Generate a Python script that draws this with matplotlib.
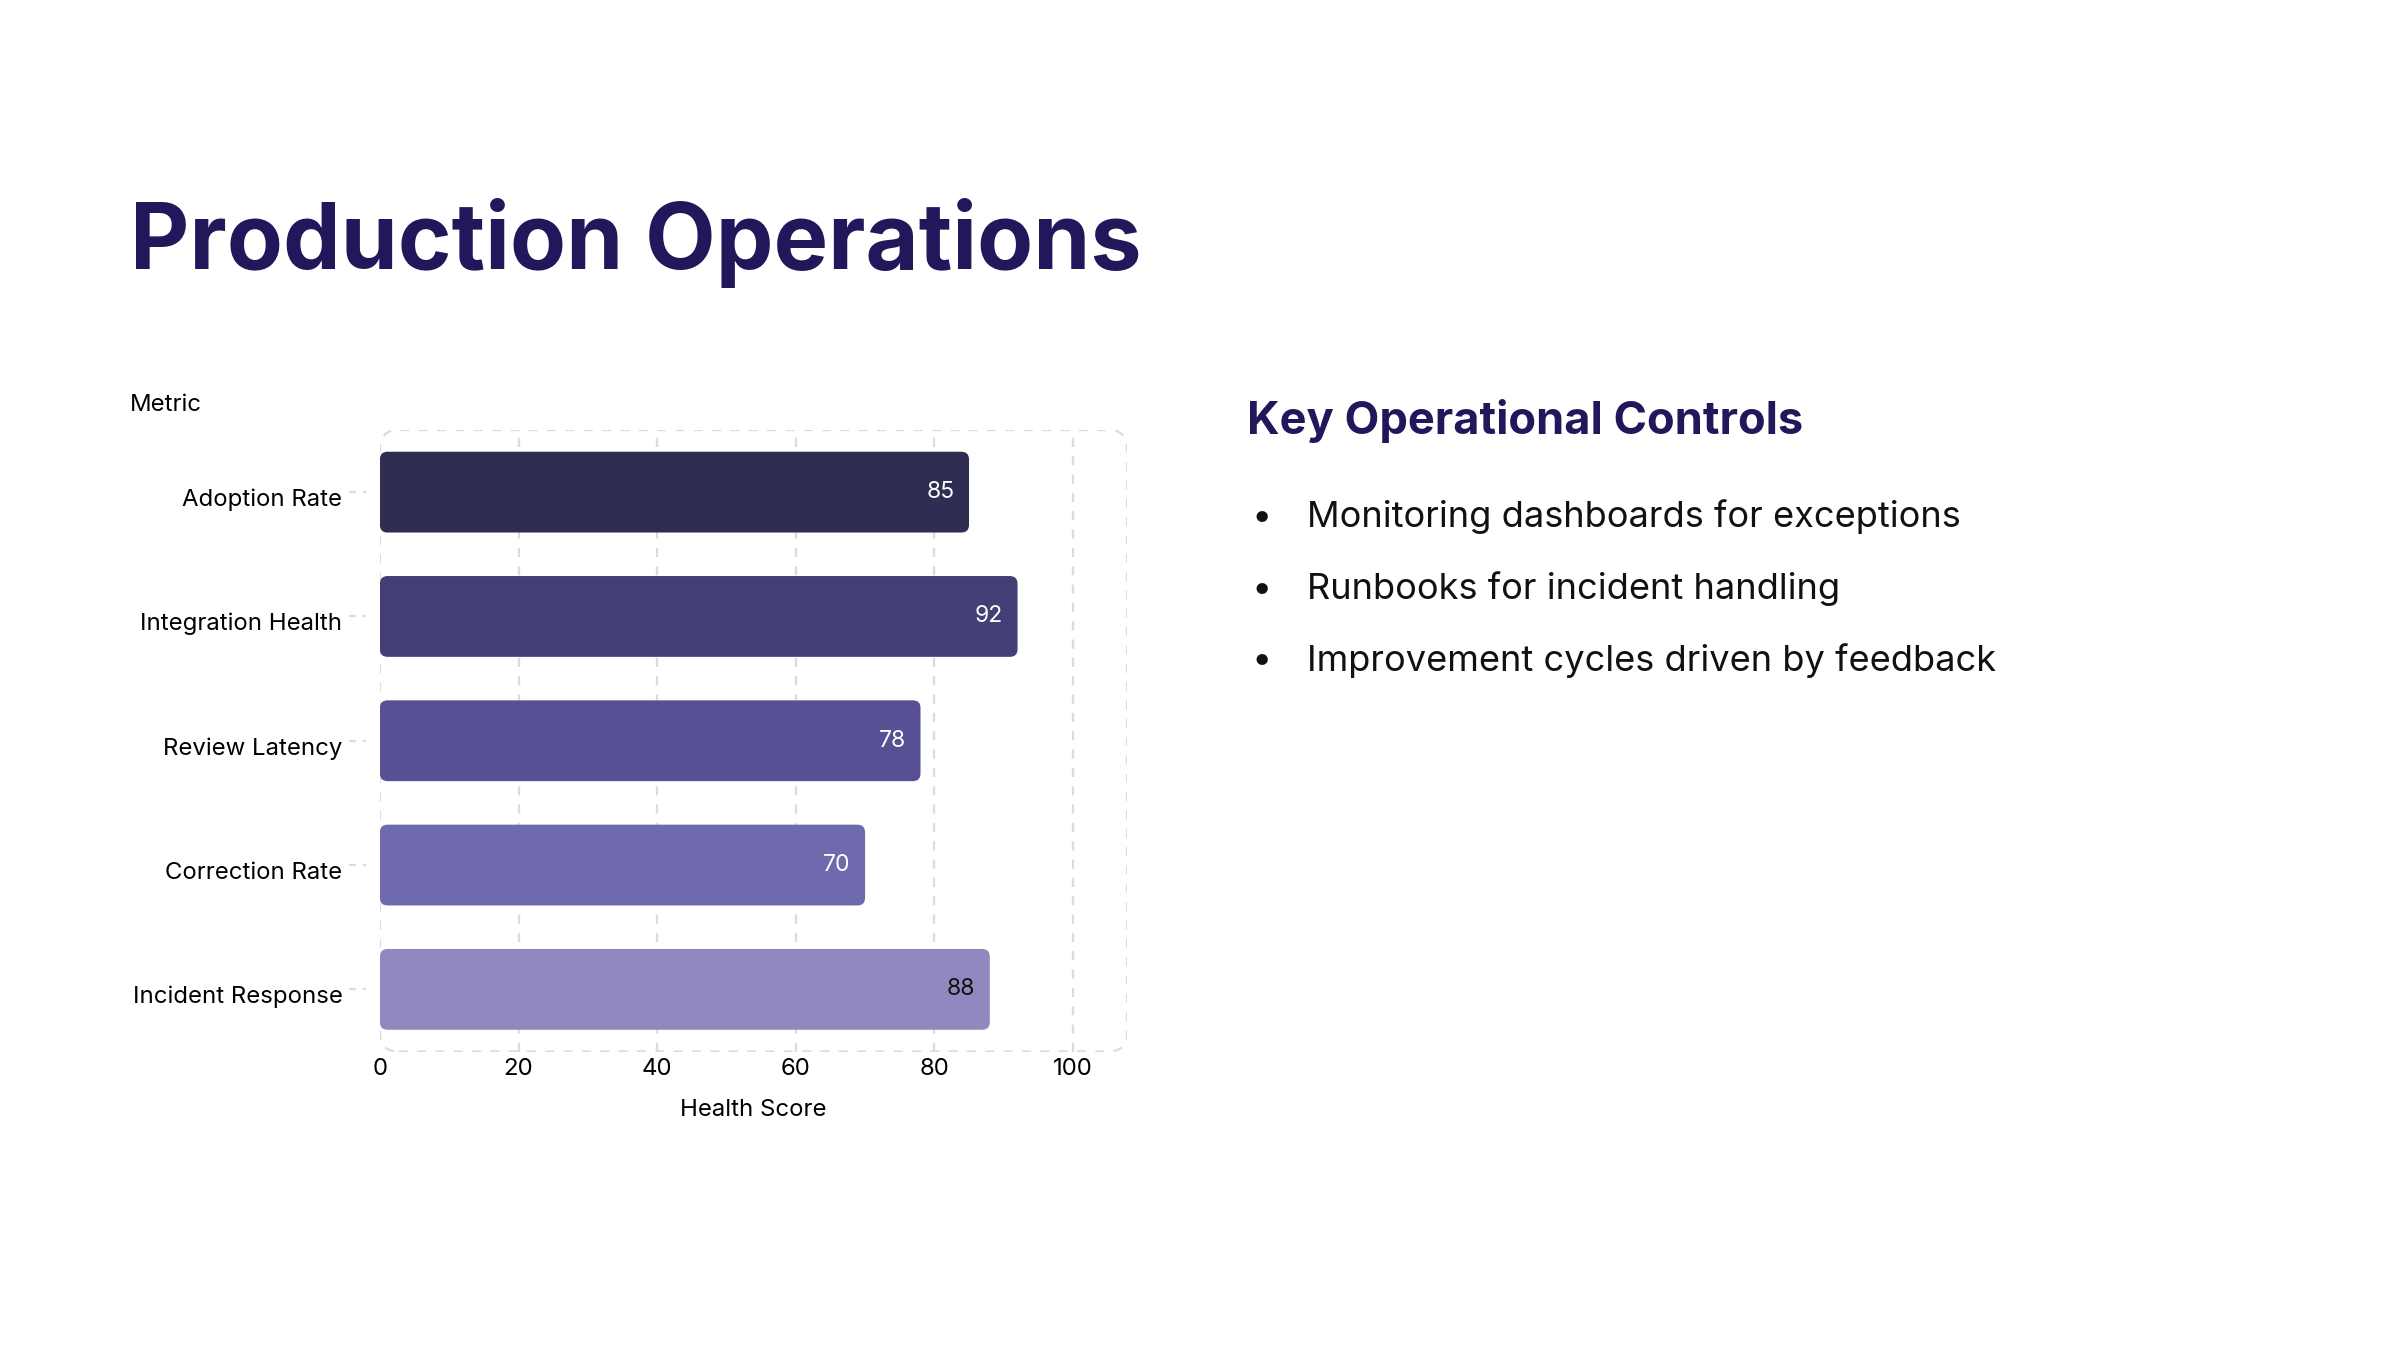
import matplotlib
matplotlib.use("Agg")
import matplotlib.pyplot as plt
from matplotlib.patches import FancyBboxPatch
from matplotlib.lines import Line2D
from matplotlib.transforms import ScaledTranslation

metrics = ["Adoption Rate", "Integration Health", "Review Latency",
           "Correction Rate", "Incident Response"]
scores = [85, 92, 78, 70, 88]
bar_colors = ["#302d52", "#433e74", "#575094", "#6f69ad", "#8f89bf"]
label_colors = ["white", "white", "white", "white", "#111111"]
x_ticks = [0, 20, 40, 60, 80, 100]
bullets = ["Monitoring dashboards for exceptions",
           "Runbooks for incident handling",
           "Improvement cycles driven by feedback"]

navy = "#21175a"
grid_col = "#dcdcdc"
plt.rcParams["font.family"] = ["Inter", "DejaVu Sans"]

fig = plt.figure(figsize=(16, 9), dpi=150)
fig.patch.set_facecolor("white")

# title
fig.text(0.054, 0.801, "Production Operations", fontsize=44, fontweight="bold",
         color=navy, ha="left", va="baseline")

ax = fig.add_axes([0.1583, 0.2211, 0.3113, 0.4604])
ax.set_xlim(0, 107.8)
ax.set_ylim(4.5, -0.5)
for s in ax.spines.values():
    s.set_visible(False)

ypos = list(range(len(metrics)))
bars = ax.barh(ypos, scores, height=0.65, color=bar_colors)

# swap the bars for rounded ones
px_x = 0.3113 * 2400 / 107.8
px_y = 0.4604 * 1350 / 5.0
for b, c in zip(bars, bar_colors):
    b.set_visible(False)
    p = FancyBboxPatch((b.get_x(), b.get_y()), b.get_width(), b.get_height(),
                       boxstyle="round,pad=0,rounding_size=1.1",
                       mutation_aspect=px_x / px_y, fc=c, ec="none", zorder=3)
    ax.add_patch(p)

for y, v, lc in zip(ypos, scores, label_colors):
    ax.annotate(str(v), (v, y), xytext=(-7, 0), textcoords="offset points",
                ha="right", va="center", fontsize=11, color=lc, zorder=4)

# dashed grid + rounded dashed frame
for t in x_ticks[1:]:
    ax.axvline(t, color=grid_col, lw=1.1, ls=(0, (4, 4)), zorder=0)
frame = FancyBboxPatch((0, 0), 1, 1, transform=ax.transAxes,
                       boxstyle="round,pad=0,rounding_size=0.025",
                       mutation_aspect=0.3113 * 2400 / (0.4604 * 1350),
                       fc="none", ec=grid_col, lw=1.1, ls=(0, (4, 4)), zorder=0)
ax.add_patch(frame)

ax.set_xticks(x_ticks)
ax.set_yticks(ypos)
ax.set_yticklabels(metrics, va="center_baseline")
ax.tick_params(axis="x", length=0, pad=3, labelsize=11.5)
ax.tick_params(axis="y", length=0, pad=18, labelsize=11.5)
shift = ScaledTranslation(0, -2.5 / 72, fig.dpi_scale_trans)
for lab in ax.get_yticklabels():
    lab.set_transform(lab.get_transform() + shift)
# dashed tick stubs on the y axis
for y in ypos:
    ax.add_line(Line2D([-0.042, -0.018], [y, y], transform=ax.get_yaxis_transform(),
                       color=grid_col, lw=1.1, ls=(0, (3, 3)), clip_on=False))
ax.set_xlabel("Health Score", fontsize=11.5, labelpad=9)
fig.text(0.054, 0.700, "Metric", fontsize=11.5, ha="left", va="center")

# right panel
fig.text(0.5196, 0.688, "Key Operational Controls", fontsize=21.7, fontweight="bold",
         color=navy, ha="left", va="center")
for i, txt in enumerate(bullets):
    yy = 0.617 - i * 0.0533
    fig.text(0.5215, yy, "\u2022", fontsize=17.4, ha="left", va="center", color="#111111")
    fig.text(0.5446, yy, txt, fontsize=17.4, ha="left", va="center", color="#111111")

fig.savefig("out.png", dpi=150, facecolor="white")
